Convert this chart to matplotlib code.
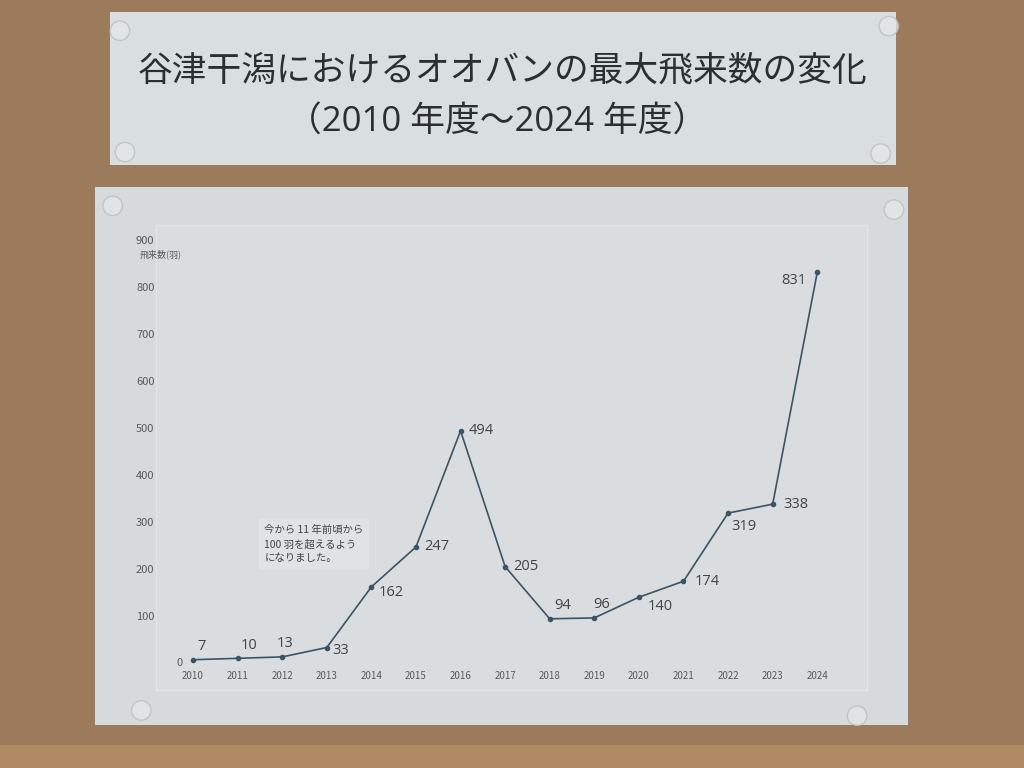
import matplotlib.pyplot as plt
from matplotlib.patches import Rectangle, Ellipse

plt.rcParams['font.family'] = ['Noto Sans CJK JP', 'DejaVu Sans']

# data
years = [2010, 2011, 2012, 2013, 2014, 2015, 2016, 2017,
         2018, 2019, 2020, 2021, 2022, 2023, 2024]
counts = [7, 10, 13, 33, 162, 247, 494, 205, 94, 96, 140, 174, 319, 338, 831]
yticks = [0, 100, 200, 300, 400, 500, 600, 700, 800, 900]

title1 = '谷津干潟におけるオオバンの最大飛来数の変化'
title2 = '（2010 年度～2024 年度）'
ylabel = '飛来数(羽)'
note = '今から 11 年前頃から\n100 羽を超えるよう\nになりました。'

# label offsets in points (dx, dy, ha, va)
offsets = {
    2010: (3, 4, 'left', 'bottom'), 2011: (2, 4, 'left', 'bottom'),
    2012: (-4, 4, 'left', 'bottom'), 2013: (4, -2, 'left', 'center'),
    2014: (5, -4, 'left', 'center'), 2015: (6, 0, 'left', 'center'),
    2016: (6, 0, 'left', 'center'), 2017: (6, 0, 'left', 'center'),
    2018: (3, 4, 'left', 'bottom'), 2019: (-1, 4, 'left', 'bottom'),
    2020: (6, -7, 'left', 'center'), 2021: (8, 0, 'left', 'center'),
    2022: (2, -4, 'left', 'top'), 2023: (8, 0, 'left', 'center'),
    2024: (-8, -6, 'right', 'center'),
}

cork = '#9c7b5d'
panel = '#d6dadc'
line_col = '#3b5566'
text_col = '#3f4448'
tick_col = '#555a5e'

fig = plt.figure(figsize=(10.24, 7.68), dpi=100, facecolor=cork)

# wooden frame strip at the bottom
fig.patches.append(Rectangle((0, 0), 1, 0.03, transform=fig.transFigure,
                             facecolor='#b08a62', edgecolor='none', zorder=0))

# title sheet
fig.patches.append(Rectangle((0.107, 0.785), 0.768, 0.200, transform=fig.transFigure,
                             facecolor='#d9dee1', edgecolor='none', zorder=1))
fig.text(0.491, 0.907, title1, ha='center', va='center', fontsize=25, color='#2b2f33')
fig.text(0.485, 0.840, title2, ha='center', va='center', fontsize=25, color='#2b2f33',
         family=['Open Sans', 'Noto Sans CJK JP'])

# chart sheet
fig.patches.append(Rectangle((0.093, 0.056), 0.794, 0.700, transform=fig.transFigure,
                             facecolor=panel, edgecolor='none', zorder=1))
fig.patches.append(Rectangle((0.152, 0.102), 0.695, 0.605, transform=fig.transFigure,
                             facecolor='#d9dde0', edgecolor='#e2e5e7', lw=1, zorder=1))

# pins
for px, py in [(0.117, 0.960), (0.868, 0.966), (0.122, 0.802), (0.860, 0.800),
               (0.110, 0.732), (0.873, 0.727), (0.138, 0.075), (0.837, 0.068)]:
    fig.patches.append(Ellipse((px, py), 0.019, 0.019 * 1024 / 768,
                               transform=fig.transFigure,
                               facecolor='#e6e8e9', edgecolor='#b9bcbe', lw=1,
                               alpha=0.75, zorder=2))

ax = fig.add_axes([0.1807, 0.1367, 0.6396, 0.5508])
ax.set_zorder(5)
ax.set_facecolor('none')
ax.plot(years, counts, color=line_col, lw=1.2, marker='o', ms=3,
        markerfacecolor=line_col, markeredgecolor=line_col, zorder=3)

for x, y in zip(years, counts):
    dx, dy, ha, va = offsets[x]
    ax.annotate(str(y), (x, y), xytext=(dx, dy), textcoords='offset points',
                ha=ha, va=va, fontsize=10.5, color=text_col,
                family=['Open Sans', 'Noto Sans CJK JP'])

ax.set_xlim(2009.82, 2024.51)
ax.set_ylim(0, 900)
ax.set_xticks(years)
ax.set_xticklabels([str(y) for y in years], fontsize=7, color=tick_col)
ax.set_yticks(yticks[1:])
ax.set_yticklabels([str(t) for t in yticks[1:]], fontsize=8, color=tick_col)
ax.tick_params(length=0, pad=6)
ax.tick_params(axis='y', pad=22)
for s in ax.spines.values():
    s.set_visible(False)

# the 0 label sits right next to the first point
ax.text(-0.004, 0, str(yticks[0]), transform=ax.get_yaxis_transform(),
        fontsize=8, color=tick_col, ha='right', va='center')

ax.text(-0.07, 0.965, ylabel, transform=ax.transAxes, fontsize=6.5,
        color=tick_col, ha='left', va='center')

ax.text(2011.6, 253, note, fontsize=7.5, color=text_col, va='center', ha='left',
        linespacing=1.5,
        bbox=dict(boxstyle='square,pad=0.55', facecolor='#dfe3e5', edgecolor='none'))

fig.savefig('out.png', dpi=100, facecolor=fig.get_facecolor())
